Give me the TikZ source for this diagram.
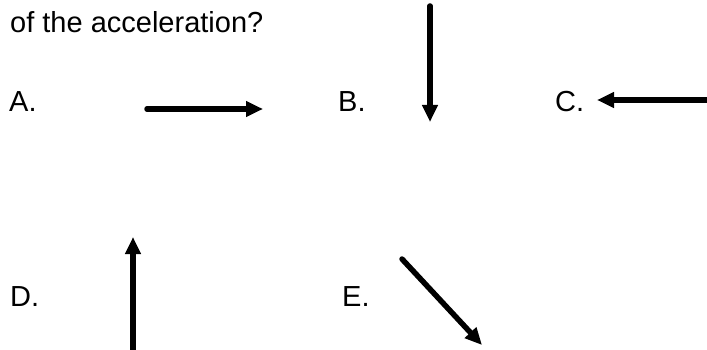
\documentclass[tikz,border=0pt]{standalone}
\usepackage{fontspec}
\setmainfont{Liberation Sans}
\usepackage{tikz}
\usetikzlibrary{arrows.meta}

\begin{document}
\begin{tikzpicture}[x=1pt,y=-1pt]
 	\tikzstyle{every node}+=[inner sep=0pt,anchor=base west,font=\fontsize{29}{34}\selectfont]
 	\tikzstyle{vec}=[line width=5.5pt,line cap=round,-{Triangle[width=15pt,length=17pt]}]
 	\useasboundingbox (0,0) rectangle (707,350);
 	\node (question) at (10,33) {of the acceleration?};
 	\node (labA) at (9,112) {A.};
 	\node (labB) at (338,112) {B.};
 	\node (labC) at (555,112) {C.};
 	\node (labD) at (10,306) {D.};
 	\node (labE) at (342,306) {E.};
 	\coordinate (a0) at (147,109);
 	\coordinate (a1) at (263,109);
 	\coordinate (b0) at (430,6);
 	\coordinate (b1) at (430,122);
 	\coordinate (c0) at (712,100);
 	\coordinate (c1) at (597,100);
 	\coordinate (d0) at (133,355);
 	\coordinate (d1) at (133,237);
 	\coordinate (e0) at (402,259);
 	\coordinate (e1) at (482,345);
 	\draw [vec] (a0) -- (a1);
 	\draw [vec] (b0) -- (b1);
 	\draw [vec] (c0) -- (c1);
 	\draw [vec] (d0) -- (d1);
 	\draw [vec] (e0) -- (e1);
\end{tikzpicture}
\end{document}
